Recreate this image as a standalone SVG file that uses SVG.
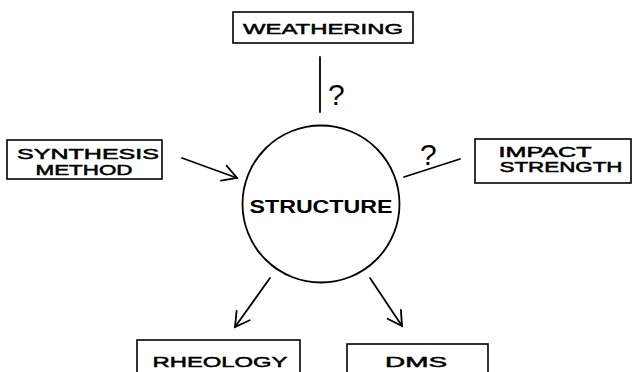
<svg xmlns="http://www.w3.org/2000/svg" width="632" height="372" viewBox="0 0 632 372">
<style>
.box{fill:none;stroke:#000;stroke-width:1.6}
.lbl{font-family:"Liberation Sans",Arial,sans-serif;font-size:15px;fill:#000;stroke:#000;stroke-width:0.5;text-anchor:middle}
.sm{font-size:14px}
.ln{fill:none;stroke:#000;stroke-width:1.8;stroke-linecap:round}
.q{font-family:"Liberation Sans",Arial,sans-serif;font-size:30px;fill:#000}
</style>
<defs>
<marker id="ah" viewBox="0 0 20 20" refX="18" refY="10" markerWidth="20" markerHeight="20" markerUnits="userSpaceOnUse" orient="auto">
<path d="M4 2 L18 10 L4 18" fill="none" stroke="#000" stroke-width="1.8" stroke-linecap="round"/>
</marker>
</defs>
<rect width="632" height="372" fill="#fff"/>
<g id="connectors">
<line class="ln" x1="320" y1="57" x2="320" y2="112"/>
<text class="q" x="328" y="105">?</text>
<line class="ln" x1="404" y1="177" x2="460" y2="159"/>
<text class="q" x="420" y="165">?</text>
<line class="ln" x1="182" y1="158" x2="237" y2="178" marker-end="url(#ah)"/>
<line class="ln" x1="270" y1="278" x2="235" y2="327" marker-end="url(#ah)"/>
<line class="ln" x1="370" y1="278" x2="402" y2="326" marker-end="url(#ah)"/>
</g>
<g id="structure">
<circle cx="321" cy="204" r="78.5" fill="none" stroke="#000" stroke-width="1.8"/>
<text x="321" y="213" font-family="Liberation Sans,Arial,sans-serif" font-size="19" font-weight="bold" text-anchor="middle" textLength="143" lengthAdjust="spacingAndGlyphs">STRUCTURE</text>
</g>
<g id="weathering">
<rect class="box" x="233" y="12" width="180" height="31"/>
<text class="lbl" x="323" y="34" textLength="160" lengthAdjust="spacingAndGlyphs">WEATHERING</text>
</g>
<g id="synthesis">
<rect class="box" x="7" y="140" width="155" height="39"/>
<text class="lbl sm" x="88" y="159" textLength="142" lengthAdjust="spacingAndGlyphs">SYNTHESIS</text>
<text class="lbl sm" x="84" y="175" textLength="97" lengthAdjust="spacingAndGlyphs">METHOD</text>
</g>
<g id="impact">
<rect class="box" x="475" y="139" width="156" height="44"/>
<text class="lbl sm" x="545" y="157" textLength="93" lengthAdjust="spacingAndGlyphs">IMPACT</text>
<text class="lbl sm" x="561" y="172" textLength="123" lengthAdjust="spacingAndGlyphs">STRENGTH</text>
</g>
<g id="rheology">
<rect class="box" x="137" y="340" width="163" height="40"/>
<text class="lbl" x="220" y="367" textLength="135" lengthAdjust="spacingAndGlyphs">RHEOLOGY</text>
</g>
<g id="dms">
<rect class="box" x="347" y="344" width="141" height="40"/>
<text class="lbl" x="416" y="367" textLength="62" lengthAdjust="spacingAndGlyphs">DMS</text>
</g>
</svg>
